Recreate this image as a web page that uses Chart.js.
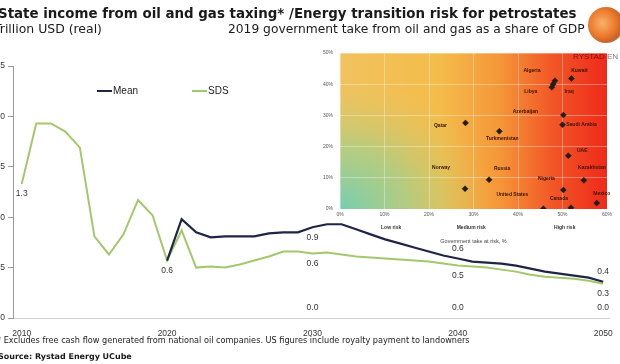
<!DOCTYPE html>
<html>
<head>
<meta charset="utf-8">
<script src="https://cdn.jsdelivr.net/npm/chart.js@4.4.1/dist/chart.umd.min.js"></script>
<style>
  body { margin: 0; width: 620px; height: 364px; overflow: hidden; background: #fff; position: relative;
         font-family: "DejaVu Sans", Verdana, sans-serif; color: #1a1a1a; }
  #main { position: absolute; left: -12px; top: 0; }
  #inset { position: absolute; left: 300px; top: 40px; }
  .t { position: absolute; white-space: nowrap; line-height: 1.15; z-index: 2; }
  #logo { position: absolute; left: 588px; top: 7px; width: 36px; height: 36px; border-radius: 50%;
          background: radial-gradient(circle at 40% 45%, #f6b26b 0, #ec7a2c 45%, #c9652a 65%, #9a9a9a 100%); z-index: 2; }
  #brand { position: absolute; left: 573px; top: 52px; font: 8px "Liberation Sans", Arial, sans-serif; z-index: 2; }
</style>
</head>
<body>
<div class="t" id="title" style="left:-2px;font-weight:bold;font-size:13px">State income from oil and gas taxing* /Energy transition risk for petrostates</div>
<div class="t" id="subLeft" style="left:-6px;font-size:11px">Trillion USD (real)</div>
<div class="t" id="subRight" style="left:228px;font-size:11px">2019 government take from oil and gas as a share of GDP</div>
<div class="t" id="foot" style="left:-3px;font-size:8px">* Excludes free cash flow generated from national oil companies. US figures include royalty payment to landowners</div>
<div class="t" id="source" style="left:-2px;font-size:8px;font-weight:bold">Source: Rystad Energy UCube</div>
<div id="logo"></div>
<div id="brand"><span style="color:#8a0a0a">RYSTAD</span><span style="color:#777"> EN</span></div>

<canvas id="main" width="632" height="364"></canvas>
<canvas id="inset" width="320" height="215"></canvas>

<script>
// ---- main chart data (trillion USD, real)
const years = Array.from({ length: 41 }, (_, i) => 2010 + i);
const historic = [1.33, 1.93, 1.93, 1.85, 1.69, 0.81, 0.63, 0.83, 1.17, 1.02, 0.57];
const meanProj = [0.98, 0.85, 0.80, 0.81, 0.81, 0.81, 0.84, 0.85, 0.85, 0.90,
                  0.93, 0.93, 0.88, 0.83, 0.78, 0.74, 0.70, 0.66, 0.62, 0.59,
                  0.56, 0.55, 0.54, 0.52, 0.49, 0.46, 0.44, 0.42, 0.40, 0.36];
const sdsProj = [0.87, 0.50, 0.51, 0.50, 0.53, 0.57, 0.61, 0.66, 0.66, 0.64,
                 0.65, 0.63, 0.61, 0.60, 0.59, 0.58, 0.57, 0.56, 0.54, 0.52,
                 0.51, 0.50, 0.48, 0.46, 0.43, 0.41, 0.40, 0.39, 0.37, 0.34];
const floorYears = [2030, 2040, 2050];
const floorValues = [0, 0, 0];
const xTicks = [2010, 2020, 2030, 2040, 2050];

// ---- inset data (% of GDP vs government take at risk)
const countries = ["Algeria", "Kuwait", "Iraq", "Libya", "Azerbaijan", "Saudi Arabia", "Qatar", "Turkmenistan",
                   "UAE", "Kazakhstan", "Norway", "Russia", "Nigeria", "Mexico", "Canada", "United States"];
const takeAtRisk = [48.3, 52.0, 47.9, 47.6, 50.2, 50.0, 28.2, 35.8, 51.3, 54.8, 28.1, 33.5, 50.2, 57.7, 51.9, 45.7];
const shareOfGdp = [41.1, 41.8, 40.0, 39.0, 30.1, 27.0, 27.6, 24.9, 17.1, 9.2, 6.5, 9.4, 6.1, 1.9, 0.4, 0.1];
const riskBands = ["Low risk", "Medium risk", "High risk"];
const riskCenters = [11.5, 29.5, 50.5];

// label placement (pixel offsets from marker), layout only
const countryLabelOffset = [[-23, -10], [8, -8], [16, 7], [-21, 4], [-38, -3], [19, 0], [-25, 3], [3, 7],
                            [14, -5], [8, -13], [-24, -21], [13, -11], [-17, -11], [5, -9], [-12, -9], [-31, -14]];
// which value labels to show: [dataset, year, side]
const valueLabels = [
  [1, 2010, 'below'], [1, 2020, 'below'],
  [0, 2030, 'below'], [1, 2030, 'below'], [2, 2030, 'above'],
  [0, 2040, 'above'], [1, 2040, 'below'], [2, 2040, 'above'],
  [0, 2050, 'above'], [1, 2050, 'below'], [2, 2050, 'above'],
];

const NAVY = '#1f2544';
const GREEN = '#a3c86c';
const SANS = '"Liberation Sans", Arial, sans-serif';

function fitText(id, target, centerY) {
  const el = document.getElementById(id);
  const fs = parseFloat(getComputedStyle(el).fontSize);
  el.style.fontSize = (fs * target / el.getBoundingClientRect().width) + 'px';
  el.style.top = (centerY - el.getBoundingClientRect().height / 2) + 'px';
}
fitText('title', 579, 14);
fitText('subLeft', 108, 29);
fitText('subRight', 357, 29);
fitText('foot', 473, 341);
fitText('source', 134, 357);

// mean projection branches off the last historic year
const meanSeries = [historic[historic.length - 1]].concat(meanProj)
  .map((v, i) => ({ x: years[historic.length - 1 + i], y: v }));
const sdsSeries = historic.concat(sdsProj).map((v, i) => ({ x: years[i], y: v }));
const floorSeries = floorYears.map((y, i) => ({ x: y, y: floorValues[i] }));

const inlineLegend = {
  id: 'inlineLegend',
  afterDraw(chart) {
    const ctx = chart.ctx;
    const spots = [[109, 91], [204, 91]];
    chart.data.datasets.slice(0, 2).forEach((ds, i) => {
      const [x, y] = spots[i];
      ctx.save();
      ctx.strokeStyle = ds.borderColor;
      ctx.lineWidth = 2;
      ctx.beginPath(); ctx.moveTo(x, y); ctx.lineTo(x + 15, y); ctx.stroke();
      ctx.fillStyle = '#222';
      ctx.font = '10px ' + SANS;
      ctx.textBaseline = 'middle';
      ctx.fillText(ds.label, x + 16, y + 0.5);
      ctx.restore();
    });
  }
};

const pointValues = {
  id: 'pointValues',
  afterDatasetsDraw(chart) {
    const ctx = chart.ctx;
    const xs = chart.scales.x, ys = chart.scales.y;
    ctx.save();
    ctx.font = '8.5px ' + SANS;
    ctx.fillStyle = '#333';
    ctx.textAlign = 'center';
    ctx.textBaseline = 'middle';
    valueLabels.forEach(([d, year, side]) => {
      const pt = chart.data.datasets[d].data.find(p => p.x === year);
      const px = xs.getPixelForValue(pt.x);
      const py = ys.getPixelForValue(pt.y);
      ctx.fillText(pt.y.toFixed(1), px, py + (side === 'below' ? 10 : -10));
    });
    ctx.restore();
  }
};

new Chart(document.getElementById('main'), {
  type: 'line',
  data: {
    datasets: [
      { label: 'Mean', data: meanSeries, borderColor: NAVY, borderWidth: 2.2, pointRadius: 0 },
      { label: 'SDS', data: sdsSeries, borderColor: GREEN, borderWidth: 2, pointRadius: 0 },
      { label: 'Zero', data: floorSeries, showLine: false, pointRadius: 0, borderWidth: 0 },
    ]
  },
  options: {
    responsive: false,
    animation: false,
    layout: { padding: { top: 66, right: 11, left: 0, bottom: 26 } },
    plugins: { legend: { display: false }, tooltip: { enabled: false } },
    scales: {
      x: {
        type: 'linear', min: 2009.4, max: 2050.4,
        afterBuildTicks: s => { s.ticks = xTicks.map(v => ({ value: v })); },
        afterFit: s => { s.height = 20; },
        ticks: { callback: v => String(v), color: '#333', font: { family: SANS, size: 8.5 }, padding: 3, maxRotation: 0 },
        grid: { display: false },
        border: { display: true, color: '#d0d0d0', dash: [2, 2] }
      },
      y: {
        min: 0, max: 2.5,
        afterFit: s => { s.width = 25; },
        ticks: { stepSize: 0.5, callback: v => v.toFixed(1), color: '#333', font: { family: SANS, size: 8.5 }, padding: 3 },
        grid: { drawOnChartArea: false, tickLength: 5, color: '#999' },
        border: { color: '#999' }
      }
    }
  },
  plugins: [inlineLegend, pointValues]
});

// ---- inset scatter
const riskBackground = {
  id: 'riskBackground',
  beforeDraw(chart) {
    const { ctx, chartArea: a } = chart;
    const w = a.right - a.left, h = a.bottom - a.top;
    ctx.save();
    const g = ctx.createLinearGradient(a.left, 0, a.right, 0);
    g.addColorStop(0, '#f1c25e');
    g.addColorStop(0.38, '#f4bc4a');
    g.addColorStop(0.6, '#f59638');
    g.addColorStop(0.8, '#f25526');
    g.addColorStop(1, '#ee2a1a');
    ctx.fillStyle = g;
    ctx.fillRect(a.left, a.top, w, h);
    const rx = w * 0.58, k = (h * 0.85) / rx;
    ctx.beginPath(); ctx.rect(a.left, a.top, w, h); ctx.clip();
    ctx.translate(a.left, a.bottom);
    ctx.scale(1, k);
    const r = ctx.createRadialGradient(0, 0, 0, 0, 0, rx);
    r.addColorStop(0, 'rgba(118,206,178,1)');
    r.addColorStop(0.45, 'rgba(160,208,142,0.75)');
    r.addColorStop(1, 'rgba(220,200,100,0)');
    ctx.fillStyle = r;
    ctx.fillRect(0, -h / k, w, h / k);
    ctx.restore();
  }
};

const countryNames = {
  id: 'countryNames',
  afterDatasetsDraw(chart) {
    const ctx = chart.ctx;
    const meta = chart.getDatasetMeta(0);
    ctx.save();
    ctx.font = 'bold 5px ' + SANS;
    ctx.fillStyle = '#3a1208';
    ctx.textAlign = 'center';
    ctx.textBaseline = 'middle';
    meta.data.forEach((el, i) => {
      const [dx, dy] = countryLabelOffset[i];
      ctx.fillText(countries[i], el.x + dx, el.y + dy);
    });
    ctx.restore();
  }
};

const bandNames = {
  id: 'bandNames',
  afterDraw(chart) {
    const ctx = chart.ctx;
    const xs = chart.scales.x;
    ctx.save();
    ctx.font = 'bold 5px ' + SANS;
    ctx.fillStyle = '#333';
    ctx.textAlign = 'center';
    ctx.textBaseline = 'middle';
    riskBands.forEach((b, i) => ctx.fillText(b, xs.getPixelForValue(riskCenters[i]), chart.chartArea.bottom + 19));
    ctx.restore();
  }
};

new Chart(document.getElementById('inset'), {
  type: 'scatter',
  data: {
    datasets: [{
      data: takeAtRisk.map((x, i) => ({ x: x, y: shareOfGdp[i] })),
      pointStyle: 'rectRot', pointRadius: 3, backgroundColor: '#1e1e1e', borderColor: '#1e1e1e', borderWidth: 0.5
    }]
  },
  options: {
    responsive: false,
    animation: false,
    layout: { padding: { top: 13, right: 13, left: 0, bottom: 0 } },
    plugins: { legend: { display: false }, tooltip: { enabled: false } },
    scales: {
      x: {
        min: 0, max: 60,
        afterFit: s => { s.height = 46; },
        ticks: { stepSize: 10, callback: v => v + '%', color: '#555', font: { family: SANS, size: 5 }, padding: 2.5, maxRotation: 0 },
        grid: { color: 'rgba(255,255,255,0.35)', drawTicks: false },
        border: { display: false },
        title: { display: true, text: 'Government take at risk, %', color: '#444', font: { family: SANS, size: 5.5 }, padding: { top: 0, bottom: 10 } }
      },
      y: {
        min: 0, max: 50,
        afterFit: s => { s.width = 40; },
        ticks: { stepSize: 10, callback: v => v + '%', color: '#555', font: { family: SANS, size: 5 }, padding: 7 },
        grid: { color: 'rgba(255,255,255,0.35)', drawTicks: false },
        border: { display: false }
      }
    }
  },
  plugins: [riskBackground, countryNames, bandNames]
});
</script>
</body>
</html>
